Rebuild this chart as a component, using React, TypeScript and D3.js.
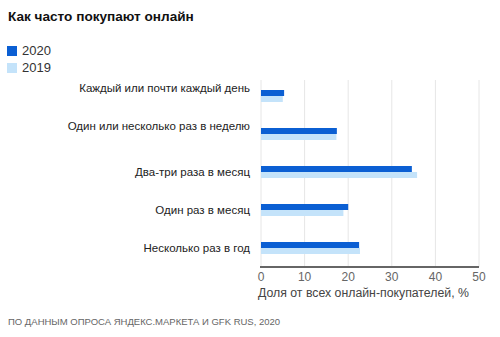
import React from "react";
import * as d3 from "d3";

const categories = [
  "Каждый или почти каждый день",
  "Один или несколько раз в неделю",
  "Два-три раза в месяц",
  "Один раз в месяц",
  "Несколько раз в год",
];
const values2020 = [5.3, 17.4, 34.6, 20.0, 22.5];
const values2019 = [5.0, 17.3, 35.8, 18.9, 22.7];
const seriesNames = ["2020", "2019"];
const xTicks = [0, 10, 20, 30, 40, 50];
const labelOffsets = [-8, -8, 0, 0, 0];

const colors = ["#0b5fd3", "#c4e3fa"];
const font = "'Liberation Sans', Arial, sans-serif";

export default function App() {
  const W = 500, H = 337;
  const left = 261, right = 479;
  const top = 77, bottom = 267;
  const x = d3.scaleLinear().domain([0, 50]).range([left, right]);
  const y = d3.scaleBand().domain(categories).range([top, top + 38 * 5]).paddingInner(0).paddingOuter(0);
  const barH = 6;
  const series = [values2020, values2019];

  return (
    <svg width={W} height={H} style={{ position: "absolute", left: 0, top: 0, background: "#fff" }}>
      <text x={8} y={21} fontFamily={font} fontSize={13.6} fontWeight="bold" fill="#111">
        Как часто покупают онлайн
      </text>
      {seriesNames.map((s, i) => (
        <g key={s}>
          <rect x={7} y={46 + i * 17} width={10} height={10} fill={colors[i]} />
          <text x={22} y={55 + i * 17} fontFamily={font} fontSize={13} fill="#333">{s}</text>
        </g>
      ))}
      {xTicks.map((t) => (
        <line key={t} x1={x(t)} x2={x(t)} y1={80} y2={bottom} stroke="#e6e6e6" strokeWidth={1} />
      ))}
      {categories.map((c, ci) => {
        const cy = (y(c) as number) + y.bandwidth() / 2;
        return (
          <g key={c}>
            <text x={250} y={cy + labelOffsets[ci]} dy="0.35em" textAnchor="end" fontFamily={font} fontSize={11.5} fill="#222">
              {c}
            </text>
            {series.map((vals, si) => (
              <rect key={si} x={x(0)} y={cy - barH + si * barH} width={x(vals[ci]) - x(0)} height={barH} fill={colors[si]} />
            ))}
          </g>
        );
      })}
      <line x1={left - 1} x2={right} y1={bottom} y2={bottom} stroke="#666" strokeWidth={2} />
      {xTicks.map((t) => (
        <text key={t} x={x(t)} y={281} textAnchor="middle" fontFamily={font} fontSize={12} fill="#666">{t}</text>
      ))}
      <text x={258} y={297} fontFamily={font} fontSize={12.3} fill="#444">Доля от всех онлайн-покупателей, %</text>
      <text x={8} y={325} fontFamily={font} fontSize={9.5} fill="#666">ПО ДАННЫМ ОПРОСА ЯНДЕКС.МАРКЕТА И GFK RUS, 2020</text>
    </svg>
  );
}
